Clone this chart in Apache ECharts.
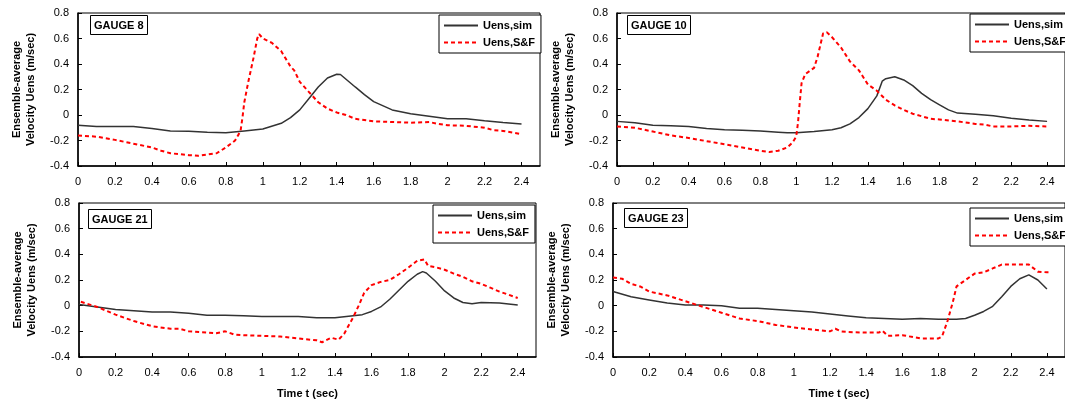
<!DOCTYPE html>
<html>
<head>
<meta charset="utf-8">
<script src="https://cdn.jsdelivr.net/npm/echarts@6/dist/echarts.min.js"></script>
<style>
  html, body { margin: 0; padding: 0; background: #fff; }
  #display { width: 1065px; height: 405px; }
</style>
</head>
<body>
<div id="display"></div>
<script>
// 数据 [t, Uens]
var g8Sim = [[0,-0.08],[0.1,-0.09],[0.2,-0.09],[0.3,-0.09],[0.4,-0.105],[0.5,-0.125],[0.6,-0.128],[0.7,-0.135],[0.8,-0.14],[0.9,-0.125],[1.0,-0.11],[1.1,-0.065],[1.15,-0.02],[1.2,0.04],[1.25,0.13],[1.3,0.22],[1.35,0.29],[1.4,0.32],[1.42,0.318],[1.5,0.22],[1.55,0.16],[1.6,0.105],[1.7,0.04],[1.8,0.01],[1.9,-0.01],[2.0,-0.03],[2.1,-0.03],[2.2,-0.045],[2.3,-0.058],[2.4,-0.07]];
var g8SF = [[0,-0.16],[0.1,-0.17],[0.2,-0.195],[0.3,-0.225],[0.4,-0.255],[0.45,-0.28],[0.5,-0.3],[0.6,-0.315],[0.65,-0.32],[0.7,-0.31],[0.75,-0.3],[0.8,-0.255],[0.85,-0.2],[0.87,-0.15],[0.88,-0.12],[0.89,-0.02],[0.9,0.1],[0.92,0.25],[0.95,0.45],[0.97,0.6],[0.98,0.635],[1.0,0.6],[1.05,0.565],[1.1,0.5],[1.15,0.38],[1.17,0.35],[1.2,0.26],[1.25,0.18],[1.3,0.1],[1.35,0.05],[1.4,0.02],[1.45,0.0],[1.5,-0.03],[1.6,-0.05],[1.7,-0.055],[1.8,-0.06],[1.9,-0.055],[1.95,-0.07],[2.0,-0.08],[2.1,-0.085],[2.2,-0.1],[2.25,-0.12],[2.3,-0.125],[2.4,-0.15]];
var g10Sim = [[0,-0.05],[0.1,-0.06],[0.2,-0.08],[0.3,-0.085],[0.4,-0.09],[0.5,-0.105],[0.6,-0.115],[0.7,-0.12],[0.8,-0.125],[0.9,-0.135],[0.95,-0.14],[1.0,-0.14],[1.1,-0.13],[1.2,-0.115],[1.25,-0.1],[1.3,-0.07],[1.35,-0.02],[1.4,0.05],[1.45,0.15],[1.48,0.265],[1.5,0.285],[1.55,0.3],[1.6,0.275],[1.65,0.23],[1.7,0.17],[1.75,0.12],[1.8,0.08],[1.85,0.04],[1.9,0.015],[2.0,0.005],[2.1,-0.005],[2.2,-0.025],[2.3,-0.04],[2.4,-0.05]];
var g10SF = [[0,-0.09],[0.1,-0.1],[0.2,-0.13],[0.3,-0.16],[0.4,-0.18],[0.5,-0.205],[0.6,-0.23],[0.7,-0.255],[0.8,-0.28],[0.85,-0.29],[0.9,-0.28],[0.95,-0.255],[0.98,-0.215],[1.0,-0.17],[1.01,-0.06],[1.02,0.1],[1.03,0.25],[1.05,0.32],[1.1,0.37],[1.12,0.46],[1.15,0.64],[1.17,0.65],[1.2,0.61],[1.25,0.53],[1.3,0.42],[1.35,0.35],[1.4,0.24],[1.45,0.19],[1.5,0.12],[1.55,0.075],[1.6,0.04],[1.65,0.01],[1.7,-0.01],[1.75,-0.03],[1.8,-0.035],[1.9,-0.05],[2.0,-0.07],[2.05,-0.075],[2.1,-0.09],[2.2,-0.09],[2.3,-0.085],[2.4,-0.09]];
var g21Sim = [[0,0.01],[0.1,-0.01],[0.2,-0.03],[0.3,-0.04],[0.4,-0.05],[0.5,-0.05],[0.6,-0.06],[0.7,-0.075],[0.8,-0.075],[0.9,-0.078],[1.0,-0.085],[1.1,-0.085],[1.2,-0.085],[1.3,-0.095],[1.4,-0.095],[1.5,-0.078],[1.55,-0.07],[1.6,-0.045],[1.65,-0.01],[1.7,0.05],[1.75,0.12],[1.8,0.19],[1.85,0.245],[1.88,0.265],[1.9,0.255],[1.95,0.19],[2.0,0.115],[2.05,0.06],[2.1,0.025],[2.15,0.015],[2.2,0.025],[2.3,0.02],[2.4,0.005]];
var g21SF = [[0.01,0.03],[0.1,-0.01],[0.2,-0.07],[0.3,-0.12],[0.4,-0.16],[0.5,-0.18],[0.55,-0.18],[0.6,-0.2],[0.7,-0.21],[0.75,-0.215],[0.8,-0.2],[0.85,-0.225],[0.9,-0.23],[1.0,-0.235],[1.1,-0.24],[1.2,-0.255],[1.3,-0.27],[1.33,-0.285],[1.38,-0.25],[1.42,-0.265],[1.45,-0.22],[1.5,-0.09],[1.53,0.0],[1.56,0.1],[1.6,0.16],[1.65,0.185],[1.7,0.2],[1.75,0.245],[1.8,0.295],[1.85,0.35],[1.89,0.36],[1.91,0.31],[1.95,0.3],[2.0,0.28],[2.05,0.25],[2.1,0.225],[2.15,0.19],[2.2,0.17],[2.25,0.14],[2.3,0.11],[2.35,0.085],[2.4,0.06]];
var g23Sim = [[0,0.11],[0.1,0.07],[0.2,0.045],[0.3,0.02],[0.4,0.005],[0.5,0.005],[0.6,0.0],[0.7,-0.02],[0.8,-0.02],[0.9,-0.03],[1.0,-0.04],[1.1,-0.05],[1.2,-0.065],[1.3,-0.08],[1.4,-0.095],[1.5,-0.1],[1.6,-0.105],[1.7,-0.1],[1.8,-0.105],[1.9,-0.105],[1.95,-0.1],[2.0,-0.075],[2.05,-0.045],[2.1,-0.005],[2.15,0.07],[2.2,0.15],[2.25,0.21],[2.3,0.24],[2.35,0.2],[2.4,0.13]];
var g23SF = [[0,0.22],[0.05,0.21],[0.1,0.17],[0.15,0.15],[0.2,0.11],[0.3,0.08],[0.4,0.035],[0.5,-0.01],[0.6,-0.055],[0.7,-0.1],[0.8,-0.12],[0.9,-0.15],[1.0,-0.17],[1.1,-0.185],[1.2,-0.2],[1.23,-0.18],[1.26,-0.2],[1.3,-0.205],[1.4,-0.21],[1.47,-0.21],[1.49,-0.195],[1.52,-0.235],[1.6,-0.23],[1.7,-0.255],[1.8,-0.255],[1.82,-0.24],[1.85,-0.12],[1.88,0.03],[1.9,0.15],[1.95,0.2],[2.0,0.25],[2.05,0.26],[2.1,0.29],[2.15,0.32],[2.2,0.32],[2.3,0.32],[2.35,0.265],[2.4,0.26],[2.42,0.26]];

var gaugeNames = ['GAUGE 8', 'GAUGE 10', 'GAUGE 21', 'GAUGE 23'];
var seriesNames = ['Uens,sim', 'Uens,S&F'];
var yTitle = 'Ensemble-average\nVelocity Uens (m/sec)';
var xTitle = 'Time t (sec)';

var font = 'Liberation Sans, Arial, sans-serif';
var simData = [g8Sim, g10Sim, g21Sim, g23Sim];
var sfData = [g8SF, g10SF, g21SF, g23SF];

// 四个子图的位置
var grids = [
    { left: 78, top: 13, width: 462, height: 153 },
    { left: 617, top: 13, width: 453, height: 153 },
    { left: 79, top: 203, width: 457, height: 154 },
    { left: 613, top: 203, width: 457, height: 154 }
];
var legendPos = [[439, 15], [970, 14], [433, 205], [970, 208]];
var gaugePos = [[90, 15], [627, 15], [88, 209], [624, 208]];

var myDisplay = echarts.init(document.getElementById('display'));

var option = {
    backgroundColor: '#fff',
    animation: false,
    grid: [], xAxis: [], yAxis: [], series: [], legend: [], title: []
};

for (var i = 0; i < 4; i++) {
    option.grid.push(Object.assign({ show: true, borderColor: '#000', borderWidth: 1, backgroundColor: 'transparent' }, grids[i]));
    option.xAxis.push({
        type: 'value', gridIndex: i, min: 0, max: 2.5, interval: 0.2,
        name: i >= 2 ? xTitle : '', nameLocation: 'middle', nameGap: 31,
        nameTextStyle: { fontFamily: font, fontSize: 11, fontWeight: 'bold', color: '#000' },
        axisLine: { onZero: false, lineStyle: { color: '#000', width: 1.5 } },
        axisTick: { inside: true, length: 4, lineStyle: { color: '#000' } },
        axisLabel: { showMaxLabel: false, margin: 10, fontFamily: font, fontSize: 11, color: '#000' },
        splitLine: { show: false }
    });
    option.yAxis.push({
        type: 'value', gridIndex: i, min: -0.4, max: 0.8, interval: 0.2,
        name: yTitle, nameLocation: 'middle', nameRotate: 90, nameGap: 40,
        nameTextStyle: { fontFamily: font, fontSize: 11, fontWeight: 'bold', color: '#000', lineHeight: 14 },
        axisLine: { lineStyle: { color: '#000', width: 1.5 } },
        axisTick: { inside: true, length: 4, lineStyle: { color: '#000' } },
        axisLabel: { margin: 9, fontFamily: font, fontSize: 11, color: '#000' },
        splitLine: { show: false }
    });
    option.series.push({
        name: seriesNames[0], type: 'line', xAxisIndex: i, yAxisIndex: i,
        data: simData[i], symbol: 'none', color: '#333',
        lineStyle: { color: '#333', width: 1.5 }
    });
    option.series.push({
        name: seriesNames[1], type: 'line', xAxisIndex: i, yAxisIndex: i,
        data: sfData[i], symbol: 'none', color: '#ff0000',
        lineStyle: { color: '#ff0000', width: 2, type: [4, 3] }
    });
    option.legend.push({
        data: seriesNames, orient: 'vertical', left: legendPos[i][0], top: legendPos[i][1],
        itemWidth: 34, itemHeight: 12, itemGap: 6, padding: [5, 6, 5, 4],
        backgroundColor: '#fff', borderColor: '#000', borderWidth: 1,
        itemStyle: { opacity: 0 },
        textStyle: { fontFamily: font, fontSize: 11, fontWeight: 'bold', color: '#000' }
    });
    option.title.push({
        text: gaugeNames[i], left: gaugePos[i][0], top: gaugePos[i][1],
        padding: [5, 4, 4, 4], borderColor: '#000', borderWidth: 1, backgroundColor: '#fff',
        textStyle: { fontFamily: font, fontSize: 11, fontWeight: 'bold', color: '#000' }
    });
}

myDisplay.setOption(option);
</script>
</body>
</html>
